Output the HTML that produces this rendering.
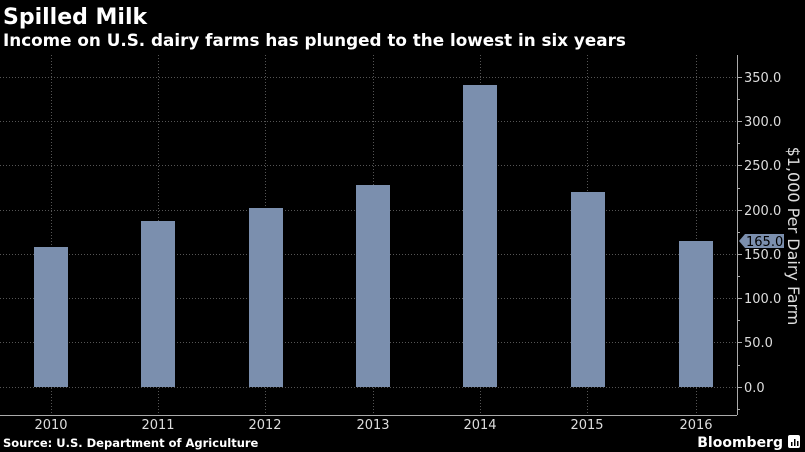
<!DOCTYPE html><html><head><style>
body{margin:0;background:#000;width:805px;height:452px;overflow:hidden;font-family:"DejaVu Sans","Liberation Sans",sans-serif;color:#fff}
</style></head><body>
<svg width="805" height="452" xmlns="http://www.w3.org/2000/svg" style="position:absolute;left:0;top:0">
<text x="3" y="24" font-family="DejaVu Sans" font-weight="bold" font-size="22" fill="#fff">Spilled Milk</text>
<text x="3" y="46" font-family="DejaVu Sans" font-weight="bold" font-size="16.8" fill="#fff">Income on U.S. dairy farms has plunged to the lowest in six years</text>
<g stroke="#555" stroke-width="1" stroke-dasharray="1,2">
<line x1="0" x2="737" y1="77.5" y2="77.5"/><line x1="0" x2="737" y1="121.5" y2="121.5"/><line x1="0" x2="737" y1="165.5" y2="165.5"/><line x1="0" x2="737" y1="210.5" y2="210.5"/><line x1="0" x2="737" y1="254.5" y2="254.5"/><line x1="0" x2="737" y1="298.5" y2="298.5"/><line x1="0" x2="737" y1="342.5" y2="342.5"/><line x1="0" x2="737" y1="387.5" y2="387.5"/>
<line x1="51.5" x2="51.5" y1="55" y2="415"/><line x1="158.5" x2="158.5" y1="55" y2="415"/><line x1="265.5" x2="265.5" y1="55" y2="415"/><line x1="373.5" x2="373.5" y1="55" y2="415"/><line x1="480.5" x2="480.5" y1="55" y2="415"/><line x1="587.5" x2="587.5" y1="55" y2="415"/><line x1="696.5" x2="696.5" y1="55" y2="415"/>
</g>
<g fill="#7b8fae">
<rect x="34" y="247" width="34" height="140"/>
<rect x="141" y="221" width="34" height="166"/>
<rect x="249" y="208" width="34" height="179"/>
<rect x="356" y="185" width="34" height="202"/>
<rect x="463" y="85" width="34" height="302"/>
<rect x="571" y="192" width="34" height="195"/>
<rect x="679" y="241" width="34" height="146"/>
</g>
<line x1="0" x2="737" y1="415.5" y2="415.5" stroke="#aaa"/>
<line x1="737.5" x2="737.5" y1="55" y2="415" stroke="#aaa"/>
<g stroke="#aaa">
<line x1="737" x2="742" y1="77.5" y2="77.5"/><line x1="737" x2="742" y1="121.5" y2="121.5"/><line x1="737" x2="742" y1="165.5" y2="165.5"/><line x1="737" x2="742" y1="210.5" y2="210.5"/><line x1="737" x2="742" y1="254.5" y2="254.5"/><line x1="737" x2="742" y1="298.5" y2="298.5"/><line x1="737" x2="742" y1="342.5" y2="342.5"/><line x1="737" x2="742" y1="387.5" y2="387.5"/>
<line x1="737" x2="740" y1="99.5" y2="99.5"/><line x1="737" x2="740" y1="143.5" y2="143.5"/><line x1="737" x2="740" y1="188.5" y2="188.5"/><line x1="737" x2="740" y1="232.5" y2="232.5"/><line x1="737" x2="740" y1="276.5" y2="276.5"/><line x1="737" x2="740" y1="320.5" y2="320.5"/><line x1="737" x2="740" y1="365.5" y2="365.5"/><line x1="737" x2="740" y1="409.5" y2="409.5"/>
</g>
<g font-family="DejaVu Sans" font-size="13" fill="#ddd">
<text x="744" y="82">350.0</text><text x="744" y="126">300.0</text><text x="744" y="170">250.0</text><text x="744" y="215">200.0</text><text x="744" y="259">150.0</text><text x="744" y="303">100.0</text><text x="744" y="347">50.0</text><text x="744" y="392">0.0</text>
</g>
<polygon points="739,241 745,234 784,234 784,248 745,248" fill="#7b8fae"/>
<text x="746" y="246" font-family="DejaVu Sans" font-size="13" fill="#000">165.0</text>
<text transform="translate(788,236) rotate(90)" text-anchor="middle" font-family="DejaVu Sans" font-size="16" fill="#ddd">$1,000 Per Dairy Farm</text>
<g font-family="DejaVu Sans" font-size="13" fill="#ddd" text-anchor="middle">
<text x="51" y="429">2010</text><text x="158" y="429">2011</text><text x="265" y="429">2012</text><text x="373" y="429">2013</text><text x="480" y="429">2014</text><text x="587" y="429">2015</text><text x="696" y="429">2016</text>
</g>
<text x="3" y="447" font-family="DejaVu Sans" font-weight="bold" font-size="11.5" fill="#fff">Source: U.S. Department of Agriculture</text>
<text x="783" y="447" text-anchor="end" font-family="DejaVu Sans" font-weight="bold" font-size="14" fill="#fff">Bloomberg</text>
<rect x="788" y="435" width="12" height="13" rx="2" fill="#fff"/>
<g fill="#000"><rect x="791" y="442" width="1.5" height="4"/><rect x="794" y="439" width="1.5" height="7"/><rect x="797" y="441" width="1.5" height="5"/></g>
</svg>
</body></html>
